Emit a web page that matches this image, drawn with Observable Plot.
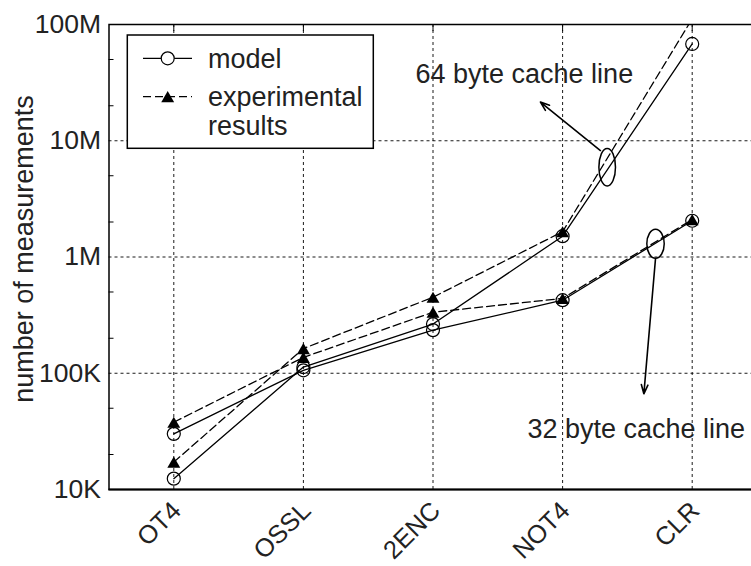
<!DOCTYPE html>
<html><head><meta charset="utf-8">
<script src="https://cdn.jsdelivr.net/npm/d3@7"></script>
<script src="https://cdn.jsdelivr.net/npm/@observablehq/plot@0.6"></script>
<style>
html,body{margin:0;padding:0;background:#fff;overflow:hidden;}
#chart{width:751px;height:566px;overflow:hidden;position:relative;}
#chart svg{max-width:none !important;}
</style></head><body><div id="chart"></div>
<script>
const categories = ["OT4", "OSSL", "2ENC", "NOT4", "CLR"];
const model64 = [12400, 113000, 265000, 1510000, 68000000];
const exp64 = [17200, 163000, 451000, 1650000, 112000000];
const model32 = [30100, 106000, 235000, 425000, 2050000];
const exp32 = [37900, 137000, 335000, 440000, 2100000];
const yTicks = [1e4, 1e5, 1e6, 1e7, 1e8];
const yTickLabels = ["10K", "100K", "1M", "10M", "100M"];
const yMinorTicks = [2e4, 5e4, 2e5, 5e5, 2e6, 5e6, 2e7, 5e7];
const yGrid = [1e5, 1e6, 1e7];
const yLabel = "number of measurements";
const legendLabels = ["model", "experimental", "results"];
const annotations = [
  {text: "64 byte cache line", x: 1.865, y: 3.75e7},
  {text: "32 byte cache line", x: 2.729, y: 3.3e4}
];
const ellipse64 = [{x: 3.344, y: 5.92e6}];
const ellipse32 = [{x: 3.717, y: 1.30e6}];
const arrows = [
  {x1: 3.292, y1: 8.24e6, x2: 2.829, y2: 2.15e7},
  {x1: 3.717, y1: 9.7e5, x2: 3.627, y2: 6.65e4}
];

const idx = categories.map((_, i) => i);
const toRows = (vals, series) => vals.map((v, i) => ({i, v, series}));
const modelRows = [...toRows(model64, "model64"), ...toRows(model32, "model32")];
const expRows = [...toRows(exp64, "exp64"), ...toRows(exp32, "exp32")];

function ellipseSymbol(aspect) {
  return {
    draw(ctx, size) {
      const rx = Math.sqrt(size / Math.PI);
      const ry = rx * aspect;
      const k = 0.5523;
      ctx.moveTo(rx, 0);
      ctx.bezierCurveTo(rx, ry * k, rx * k, ry, 0, ry);
      ctx.bezierCurveTo(-rx * k, ry, -rx, ry * k, -rx, 0);
      ctx.bezierCurveTo(-rx, -ry * k, -rx * k, -ry, 0, -ry);
      ctx.bezierCurveTo(rx * k, -ry, rx, -ry * k, rx, 0);
      ctx.closePath();
    }
  };
}

function legend() {
  const g = d3.create("svg:g");
  g.append("rect").attr("x", 127.3).attr("y", 35).attr("width", 246).attr("height", 113.3)
    .attr("fill", "#fff").attr("stroke", "#000").attr("stroke-width", 1.5);
  g.append("line").attr("x1", 143).attr("x2", 192).attr("y1", 58.3).attr("y2", 58.3)
    .attr("stroke", "#000").attr("stroke-width", 1.3);
  g.append("circle").attr("cx", 167.7).attr("cy", 58.3).attr("r", 6.5)
    .attr("fill", "#fff").attr("stroke", "#000").attr("stroke-width", 1.2);
  g.append("line").attr("x1", 143).attr("x2", 192).attr("y1", 96.7).attr("y2", 96.7)
    .attr("stroke", "#000").attr("stroke-width", 1.3).attr("stroke-dasharray", "8,4");
  g.append("path").attr("d", d3.symbol(d3.symbolTriangle, 72)()).attr("transform", "translate(167.7,98.5)")
    .attr("fill", "#000");
  const t = [[legendLabels[0], 58.3], [legendLabels[1], 96.7], [legendLabels[2], 126]];
  for (const [s, y] of t) {
    g.append("text").attr("x", 208).attr("y", y).attr("dy", "0.35em").attr("fill", "#222")
      .attr("text-anchor", "start").attr("font-size", 27).text(s);
  }
  return g.node();
}

const chart = Plot.plot({
  width: 757,
  height: 566,
  marginLeft: 108.5,
  marginRight: 0.5,
  marginTop: 24,
  marginBottom: 77,
  style: {fontFamily: "'Liberation Sans', Arial, sans-serif", fontSize: "26px", color: "#222", background: "#fff", maxWidth: "none", overflow: "visible"},
  x: {type: "linear", domain: [-0.5, 4.5], axis: null},
  y: {type: "log", domain: [1e4, 1e8], axis: null},
  marks: [
    Plot.ruleX(idx, {x: d => d, stroke: "#000", strokeWidth: 0.9, strokeDasharray: "3,3"}),
    Plot.ruleY(yGrid, {y: d => d, stroke: "#000", strokeWidth: 0.9, strokeDasharray: "3,3"}),
    Plot.axisY({ticks: yMinorTicks, tickSize: -5, tickFormat: () => "", stroke: "#000"}),
    Plot.axisX({anchor: "top", ticks: idx, tickSize: -6, tickFormat: () => "", stroke: "#000"}),
    Plot.axisY({ticks: yTicks, tickSize: 0, tickPadding: 8, fontSize: 26.5, fill: "#222",
      tickFormat: d => yTickLabels[yTicks.indexOf(d)]}),
    Plot.text(idx, {x: d => d, text: d => categories[d], frameAnchor: "bottom", rotate: -45,
      textAnchor: "end", lineAnchor: "middle", dy: 17, dx: 3, fontSize: 25.5, fill: "#222"}),
    Plot.text([yLabel], {frameAnchor: "left", textAnchor: "middle", lineAnchor: "middle", rotate: -90, dx: -85, dy: -8, fontSize: 27, fill: "#222"}),
    Plot.line(modelRows, {x: "i", y: "v", z: "series", stroke: "#000", strokeWidth: 1.3, clip: true}),
    Plot.line(expRows, {x: "i", y: "v", z: "series", stroke: "#000", strokeWidth: 1.3, strokeDasharray: "8,4", clip: true}),
    Plot.dot(modelRows, {x: "i", y: "v", r: 6.5, stroke: "#000", fill: "none", strokeWidth: 1.2, clip: true}),
    Plot.dot(expRows, {x: "i", y: "v", symbol: "triangle", r: 4.8, fill: "#000", dy: 1.9, clip: true}),
    Plot.dot(ellipse64, {x: "x", y: "y", r: 8.3, symbol: ellipseSymbol(18.8 / 8.3), stroke: "#000", fill: "none", strokeWidth: 1.5}),
    Plot.dot(ellipse32, {x: "x", y: "y", r: 8.7, symbol: ellipseSymbol(14.5 / 8.7), stroke: "#000", fill: "none", strokeWidth: 1.5}),
    Plot.arrow(arrows, {x1: "x1", y1: "y1", x2: "x2", y2: "y2", stroke: "#000", strokeWidth: 1.6, headLength: 9, headAngle: 40}),
    Plot.text(annotations, {x: "x", y: "y", text: "text", textAnchor: "start", lineAnchor: "middle", fontSize: 27, fill: "#222"}),
    Plot.frame({stroke: "#000", strokeWidth: 1.5}),
    Plot.ruleY([yTicks[0]], {stroke: "#000", strokeWidth: 2.2}),
    legend
  ]
});
document.getElementById("chart").appendChild(chart);
</script></body></html>
